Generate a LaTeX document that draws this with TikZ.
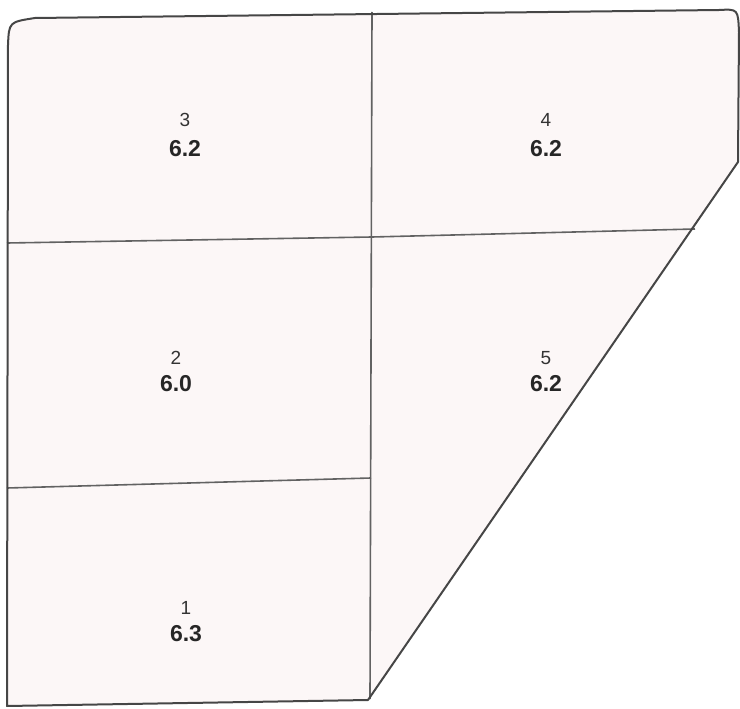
\documentclass[tikz,border=0pt]{standalone}
\usepackage{fontspec}
\setmainfont{Liberation Sans}
\definecolor{wallc}{RGB}{70,70,70}
\definecolor{roomfill}{RGB}{252,247,247}
\begin{document}
\begin{tikzpicture}[x=1pt,y=-1pt,
  wall/.style={draw=wallc,line width=2pt,line join=round},
  inner/.style={draw=wallc!85,line width=1.6pt},
  num/.style={font=\fontsize{19}{21}\selectfont,text=black!80,inner sep=0pt},
  val/.style={font=\fontsize{23}{25}\selectfont\bfseries,text=black!85,inner sep=0pt}]
\useasboundingbox (0,0) rectangle (740,709);
% corners
\coordinate (bl) at (7,706);
\coordinate (tl) at (8,45);
\coordinate (tr) at (719,10);
\coordinate (rt) at (739,32);
\coordinate (rb) at (738,162);
\coordinate (bm) at (368,700);
\coordinate (vt) at (372,12);
\coordinate (vb) at (370,699);
\coordinate (hl) at (7,243);
\coordinate (hm) at (372,237);
\coordinate (hr) at (695,229);
\coordinate (ll) at (7,488);
\coordinate (lm) at (371,478);
% outline
\path[fill=roomfill] (bl) -- (tl) .. controls (9,22) .. (35,18) -- (tr) .. controls (738,9) .. (rt) -- (rb) -- (bm) -- cycle;
\draw[inner] (vt) -- (vb);
\draw[inner] (hl) -- (hm) -- (hr);
\draw[inner] (ll) -- (lm);
\draw[wall] (bl) -- (tl) .. controls (9,22) .. (35,18) -- (tr) .. controls (738,9) .. (rt) -- (rb) -- (bm) -- cycle;
% labels
\node[num] (n3) at (185,120) {3};
\node[val] (v3) at (185,149) {6.2};
\node[num] (n4) at (546,120) {4};
\node[val] (v4) at (546,149) {6.2};
\node[num] (n2) at (176,358) {2};
\node[val] (v2) at (176,384) {6.0};
\node[num] (n5) at (546,358) {5};
\node[val] (v5) at (546,384) {6.2};
\node[num] (n1) at (186,608) {1};
\node[val] (v1) at (186,634) {6.3};
\end{tikzpicture}
\end{document}
